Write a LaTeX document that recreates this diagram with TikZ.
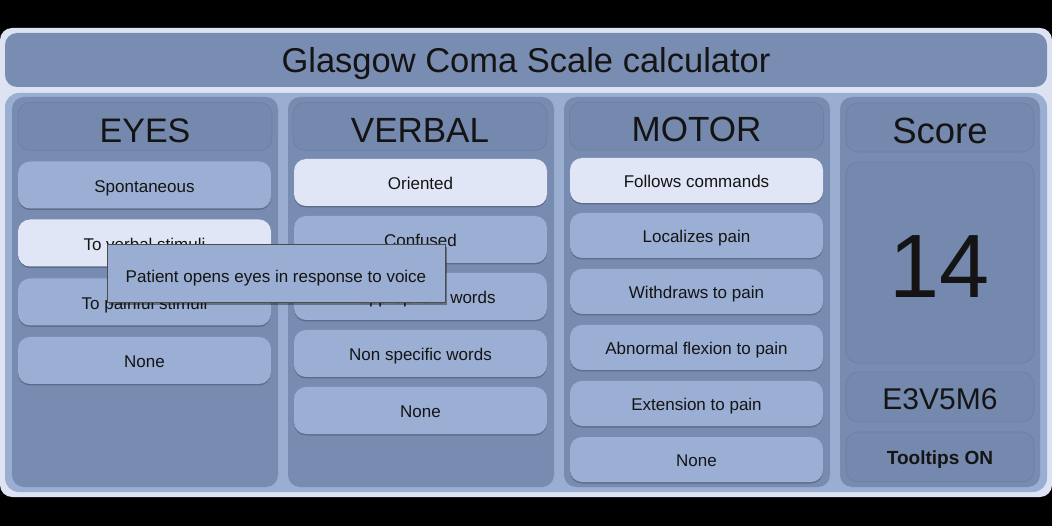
\documentclass[tikz,border=0pt]{standalone}
\usepackage{fontspec}
\setmainfont{Liberation Sans}
\usetikzlibrary{shadows}
\definecolor{lightbg}{HTML}{DDE3F2}
\definecolor{barcol}{HTML}{798CB2}
\definecolor{panelcol}{HTML}{9AAED2}
\definecolor{colcol}{HTML}{788BB0}
\definecolor{headcol}{HTML}{7588AD}
\definecolor{headline}{HTML}{6C7FA4}
\definecolor{btncol}{HTML}{9BAED3}
\definecolor{selcol}{HTML}{E1E6F6}
\definecolor{txtcol}{HTML}{141414}
\definecolor{tipcol}{HTML}{9AADD2}
\definecolor{tipline}{HTML}{4C4C4C}
\tikzset{
  base/.style={inner sep=0pt, text=txtcol, text depth=0pt},
  colbox/.style={base, rounded corners=12pt, fill=colcol, minimum height=390pt},
  headbox/.style={base, rounded corners=12pt, fill=headcol, draw=headline, line width=0.7pt,
    minimum height=48pt, font=\fontsize{35}{40}\selectfont, text height=32pt},
  btn/.style={base, rounded corners=12pt, fill=btncol, minimum width=253pt, minimum height=47pt,
    font=\fontsize{17}{20}\selectfont, text height=14.2pt,
    drop shadow={shadow xshift=0pt, shadow yshift=-1.5pt, opacity=0.22, fill=black}},
  selbtn/.style={btn, fill=selcol},
  scorebox/.style={base, rounded corners=12pt, fill=headcol, draw=headline, line width=0.7pt,
    minimum width=188pt},
}
\begin{document}
\begin{tikzpicture}[x=1pt, y=-1pt]
\useasboundingbox (0,0) rectangle (1052,526);
\fill[black] (0,0) rectangle (1052,526);
% background
\node[base, fill=lightbg, rounded corners=12pt, minimum width=1052pt, minimum height=469pt] (bg) at (526,262.5) {};
% title bar
\node[base, fill=barcol, rounded corners=12pt, minimum width=1042pt, minimum height=54pt,
  font=\fontsize{34.5}{40}\selectfont, text height=25.7pt] (title) at (526,60) {Glasgow Coma Scale calculator};
% main panel
\node[base, fill=panelcol, rounded corners=14pt, minimum width=1042pt, minimum height=399pt] (panel) at (526,292.5) {};
% columns
\node[colbox, minimum width=266pt] (colE) at (145,292) {};
\node[colbox, minimum width=266pt] (colV) at (421,292) {};
\node[colbox, minimum width=266pt] (colM) at (697,292) {};
\node[colbox, minimum width=200pt] (colS) at (940,292) {};
% headers
\node[headbox, minimum width=254pt, font=\fontsize{34}{40}\selectfont] (hE) at (145,126.5) {EYES};
\node[headbox, minimum width=254pt] (hV) at (420,126.5) {VERBAL};
\node[headbox, minimum width=254pt] (hM) at (696.5,126) {MOTOR};
\node[headbox, minimum width=188pt, minimum height=49pt, font=\fontsize{36.5}{40}\selectfont] (hS) at (940,127.5) {Score};
% eyes buttons
\node[btn] (e4) at (144.5,185) {Spontaneous};
\node[selbtn] (e3) at (144.5,243) {To verbal stimuli};
\node[btn] (e2) at (144.5,302) {To painful stimuli};
\node[btn] (e1) at (144.5,360.5) {None};
% verbal buttons
\node[selbtn] (v5) at (420.5,182.5) {Oriented};
\node[btn] (v4) at (420.5,239.5) {Confused};
\node[btn] (v3) at (420.5,296.5) {Inappropriate words};
\node[btn] (v2) at (420.5,353.5) {Non specific words};
\node[btn] (v1) at (420.5,410.5) {None};
% motor buttons
\node[selbtn, minimum height=45pt] (m6) at (696.5,180.5) {Follows commands};
\node[btn, minimum height=45pt] (m5) at (696.5,235.5) {Localizes pain};
\node[btn, minimum height=45pt] (m4) at (696.5,291.5) {Withdraws to pain};
\node[btn, minimum height=45pt] (m3) at (696.5,347.5) {Abnormal flexion to pain};
\node[btn, minimum height=45pt] (m2) at (696.5,403.5) {Extension to pain};
\node[btn, minimum height=45pt] (m1) at (696.5,459.5) {None};
% score boxes
\node[scorebox, minimum height=201pt, font=\fontsize{90}{96}\selectfont, text height=70.4pt] (total) at (940,262.5) {14};
\node[scorebox, minimum height=50pt, font=\fontsize{30}{34}\selectfont, text height=24.1pt] (code) at (940,397) {E3V5M6};
\node[scorebox, minimum height=50pt, font=\bfseries\fontsize{19}{22}\selectfont, text height=14.6pt] (tips) at (940,457) {Tooltips ON};
% tooltip
\node[base, fill=tipcol, draw=tipline, line width=1pt, minimum width=338pt, minimum height=58pt,
  font=\fontsize{17}{20}\selectfont, text height=16.2pt,
  drop shadow={shadow xshift=2pt, shadow yshift=-2pt, opacity=0.35, fill=black}] (tip) at (276,274)
  {Patient opens eyes in response to voice};
\end{tikzpicture}
\end{document}
